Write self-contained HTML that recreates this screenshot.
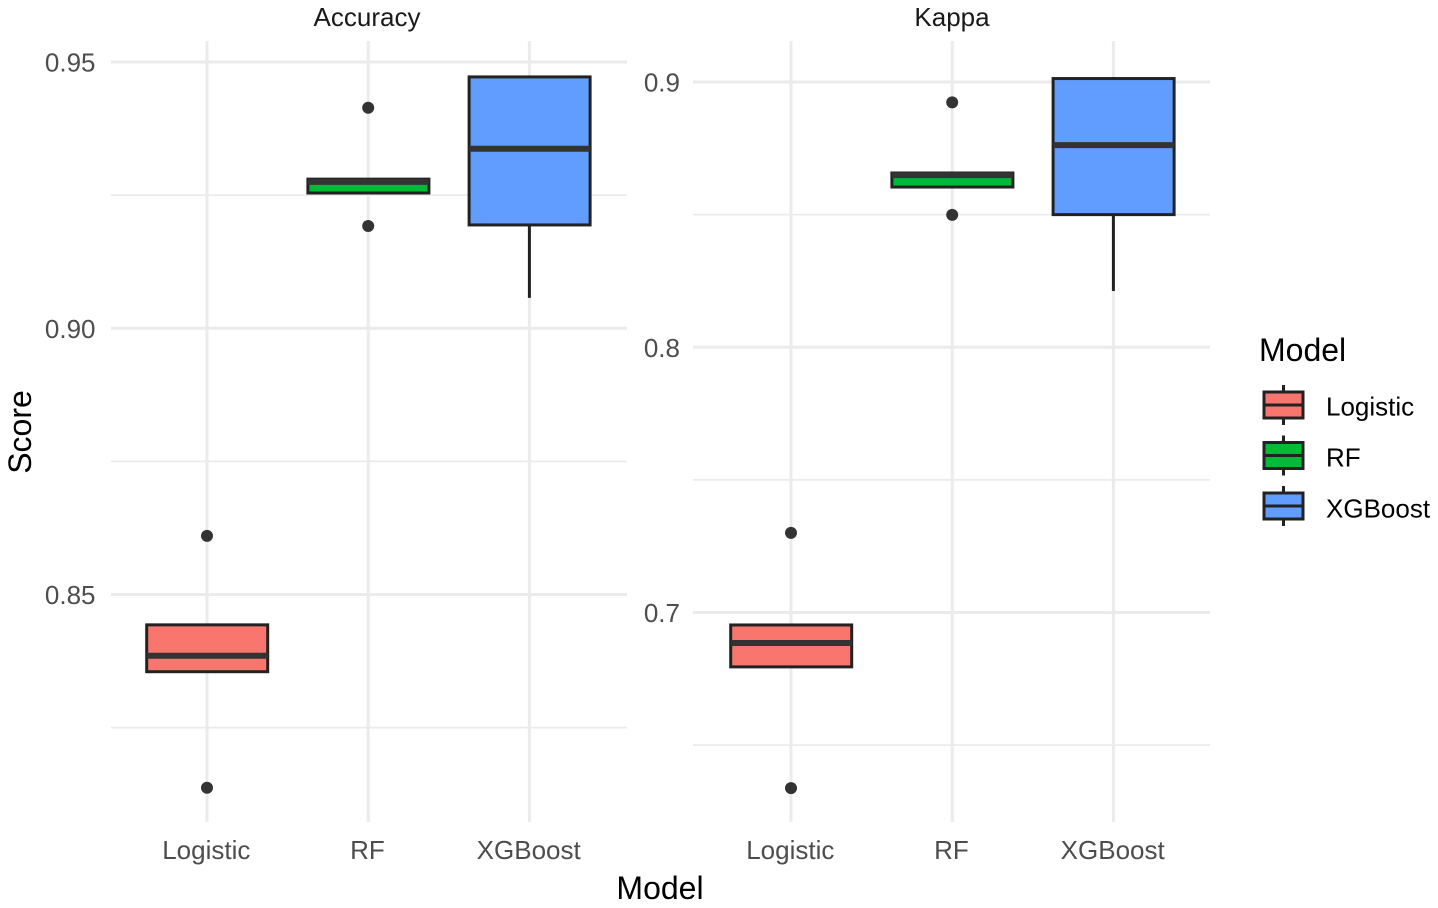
<!DOCTYPE html>
<html lang="en">
<head>
<meta charset="utf-8">
<title>Accuracy and Kappa by Model</title>
<style>
html,body{margin:0;padding:0;background:#fff;width:1438px;height:908px;overflow:hidden}
svg{display:block;font-family:"Liberation Sans",Arial,sans-serif}
</style>
</head>
<body>
<svg id="chart" width="1438" height="908" viewBox="0 0 1438 908" xmlns="http://www.w3.org/2000/svg"></svg>
<script>
const categories = ['Logistic', 'RF', 'XGBoost'];
const fills = ['#F8766D', '#00BA38', '#619CFF'];

const accuracyTickValues = [0.85, 0.90, 0.95];
const accuracyTickLabels = ['0.85', '0.90', '0.95'];
const accuracyMinorTicks = [0.825, 0.875, 0.925];
const accuracyQ1 = [0.8355, 0.9254, 0.9194];
const accuracyMedian = [0.8385, 0.9275, 0.9337];
const accuracyQ3 = [0.8443, 0.9280, 0.9472];
const accuracyWhiskerLow = [0.8355, 0.9254, 0.9057];
const accuracyWhiskerHigh = [0.8443, 0.9280, 0.9472];
const accuracyOutliers = [[0.8610, 0.8137], [0.9414, 0.9192], []];

const kappaTickValues = [0.7, 0.8, 0.9];
const kappaTickLabels = ['0.7', '0.8', '0.9'];
const kappaMinorTicks = [0.65, 0.75, 0.85];
const kappaQ1 = [0.6795, 0.8604, 0.8500];
const kappaMedian = [0.6885, 0.8649, 0.8762];
const kappaQ3 = [0.6953, 0.8657, 0.9013];
const kappaWhiskerLow = [0.6795, 0.8604, 0.8212];
const kappaWhiskerHigh = [0.6953, 0.8657, 0.9019];
const kappaOutliers = [[0.7300, 0.6338], [0.8923, 0.8499], []];

const svg = document.getElementById('chart');
const NS = 'http://www.w3.org/2000/svg';

function add(parent, tag, attrs, text) {
  const el = document.createElementNS(NS, tag);
  for (const k in attrs) el.setAttribute(k, attrs[k]);
  if (text !== undefined) el.textContent = text;
  parent.appendChild(el);
  return el;
}

function linearScale(d0, r0, d1, r1) {
  return v => r0 + (v - d0) * (r1 - r0) / (d1 - d0);
}

function drawPanel(cfg) {
  const x = i => cfg.xStart + i * cfg.xStep;
  const y = cfg.y;
  const top = 41, bottom = 822;

  const panel = add(svg, 'g', {});
  
  

  cfg.minor.forEach(v => {
    const l = add(panel, 'line', {x1: cfg.left, x2: cfg.right, y1: y(v), y2: y(v), stroke: '#ebebeb', 'stroke-width': 1.7});
    
    
  });
  cfg.ticks.forEach((v, i) => {
    const l = add(panel, 'line', {x1: cfg.left, x2: cfg.right, y1: y(v), y2: y(v), stroke: '#ebebeb', 'stroke-width': 3});
    
    
    const t = add(panel, 'text', {x: cfg.labelRight, y: y(v) + 9.5, 'text-anchor': 'end', 'font-size': 26, fill: '#4d4d4d'}, cfg.tickLabels[i]);
    
    
  });
  categories.forEach((c, i) => {
    const l = add(panel, 'line', {x1: x(i), x2: x(i), y1: top, y2: bottom, stroke: '#ebebeb', 'stroke-width': 3});
    
    
    const t = add(panel, 'text', {x: x(i) - 0.7, y: 859, 'text-anchor': 'middle', 'font-size': 26, fill: '#4d4d4d'}, c);
    
    
  });

  const title = add(panel, 'text', {x: cfg.titleX, y: 26, 'text-anchor': 'middle', 'font-size': 26, fill: '#1a1a1a'}, cfg.title);
  
  

  categories.forEach((c, i) => {
    const g = add(panel, 'g', {});
    
    
    add(g, 'line', {x1: x(i), x2: x(i), y1: y(cfg.whiskerHigh[i]), y2: y(cfg.whiskerLow[i]), stroke: '#222', 'stroke-width': 3});
    const top3 = y(cfg.q3[i]), bot = y(cfg.q1[i]);
    add(g, 'rect', {x: x(i) - 60.3, y: top3, width: 121, height: bot - top3, fill: fills[i], stroke: '#222', 'stroke-width': 3});
    add(g, 'line', {x1: x(i) - 60.3, x2: x(i) + 60.7, y1: y(cfg.median[i]), y2: y(cfg.median[i]), stroke: '#333', 'stroke-width': 6});
    cfg.outliers[i].forEach(v => {
      const p = add(g, 'circle', {cx: x(i), cy: y(v), r: 6, fill: '#333'});
      
      
    });
  });
}

drawPanel({
  name: 'accuracy', title: 'Accuracy', titleX: 367, left: 111, right: 627, labelRight: 95.5,
  xStart: 207, xStep: 161.2,
  y: linearScale(0.85, 594.5, 0.95, 62),
  ticks: accuracyTickValues, tickLabels: accuracyTickLabels, minor: accuracyMinorTicks,
  q1: accuracyQ1, median: accuracyMedian, q3: accuracyQ3,
  whiskerLow: accuracyWhiskerLow, whiskerHigh: accuracyWhiskerHigh, outliers: accuracyOutliers
});

drawPanel({
  name: 'kappa', title: 'Kappa', titleX: 952, left: 693, right: 1210, labelRight: 680,
  xStart: 791, xStep: 161.2,
  y: linearScale(0.7, 612.5, 0.9, 82),
  ticks: kappaTickValues, tickLabels: kappaTickLabels, minor: kappaMinorTicks,
  q1: kappaQ1, median: kappaMedian, q3: kappaQ3,
  whiskerLow: kappaWhiskerLow, whiskerHigh: kappaWhiskerHigh, outliers: kappaOutliers
});

const xTitle = add(svg, 'text', {x: 660, y: 899, 'text-anchor': 'middle', 'font-size': 32, fill: '#000'}, 'Model');



const yTitle = add(svg, 'text', {x: 0, y: 0, transform: 'translate(31,432) rotate(-90)', 'text-anchor': 'middle', 'font-size': 32, fill: '#000'}, 'Score');



const legend = add(svg, 'g', {});



const legendTitle = add(legend, 'text', {x: 1259, y: 361, 'font-size': 32, fill: '#000'}, 'Model');



categories.forEach((c, i) => {
  const cy = 405 + i * 50.5;
  const entry = add(legend, 'g', {});
  
  
  add(entry, 'line', {x1: 1283.5, x2: 1283.5, y1: cy - 20, y2: cy + 20, stroke: '#222', 'stroke-width': 3});
  add(entry, 'rect', {x: 1264, y: cy - 13, width: 39, height: 26, fill: fills[i], stroke: '#222', 'stroke-width': 3});
  add(entry, 'line', {x1: 1264, x2: 1303, y1: cy, y2: cy, stroke: '#222', 'stroke-width': 3});
  add(entry, 'text', {x: 1326, y: 415.5 + i * 51, 'font-size': 26, fill: '#000'}, c);
});
</script>
</body>
</html>
